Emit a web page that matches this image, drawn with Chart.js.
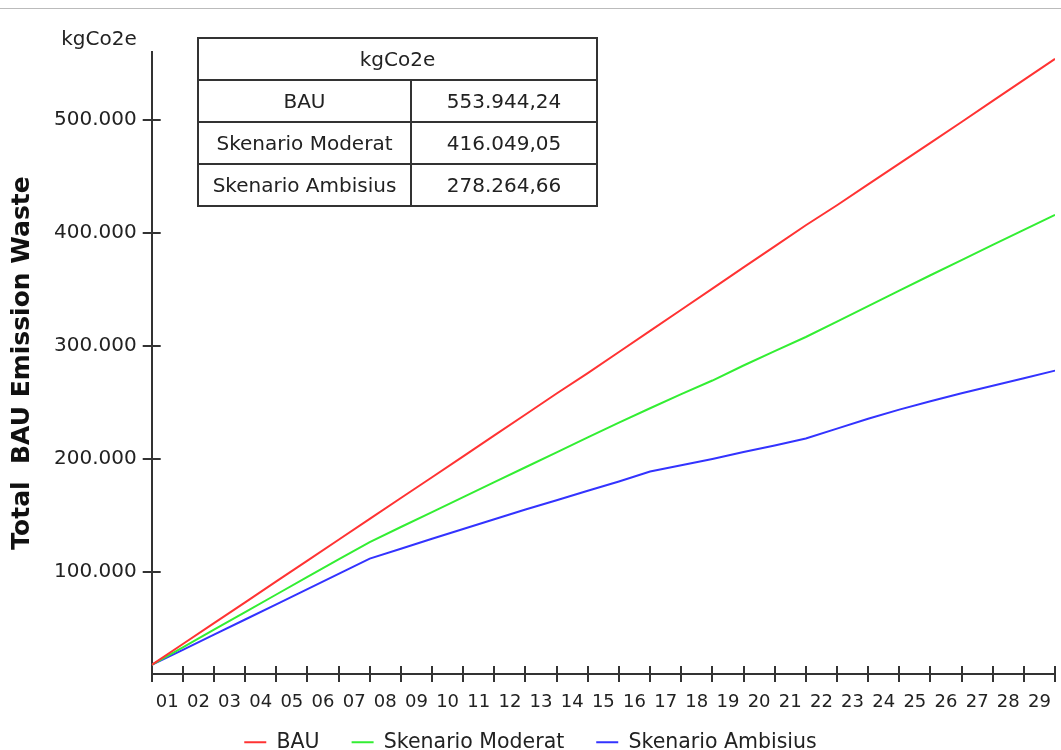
<!DOCTYPE html>
<html>
<head>
<meta charset="utf-8">
<script src="https://cdn.jsdelivr.net/npm/chart.js@4.4.1/dist/chart.umd.min.js"></script>
<style>
  body { margin: 0; background: #fff; }
  #wrap { position: relative; width: 1061px; height: 750px; }
  #topline { position: absolute; left: 0; top: 8px; width: 1061px; height: 0; border-top: 1px solid #bbb; }
  #summary {
    position: absolute; left: 197px; top: 37px; width: 401px; height: 168px;
    border-collapse: collapse; font-family: "DejaVu Sans", sans-serif; font-size: 20px; color: #222;
  }
  #summary td { border: 2px solid #333; text-align: center; padding: 0; height: 40px; }
</style>
</head>
<body>
<div id="wrap">
  <div id="topline"></div>
  <canvas id="chart_emission"></canvas>
  <table id="summary"></table>
</div>
<script>
// x labels sit between tick marks, the series has one value per tick mark (30)
const xLabels = ['01','02','03','04','05','06','07','08','09','10','11','12','13','14','15',
                 '16','17','18','19','20','21','22','23','24','25','26','27','28','29'];
const yTicks = [100000, 200000, 300000, 400000, 500000];

const bau = [18000, 36500, 55000, 73400, 91900, 110300, 128700, 147100, 165600, 184000,
             202500, 221000, 239500, 258000, 276000, 294700, 313400, 332100, 350800, 369500,
             388100, 406800, 424500, 442900, 461300, 479700, 498100, 516800, 535400, 553944];
const moderat = [18000, 33600, 49200, 64800, 80300, 95800, 111300, 126600, 140000, 153200,
                 166400, 179600, 192800, 206000, 219200, 232300, 245000, 257500, 269500, 282800,
                 295500, 308000, 321500, 335200, 349000, 362600, 376000, 389400, 402700, 416049];
const ambisius = [18000, 31400, 44800, 58200, 71600, 85000, 98500, 112000, 120800, 129600,
                  138200, 146800, 155400, 163700, 172000, 180200, 189000, 194500, 200200, 206300,
                  212000, 218200, 227000, 235700, 243800, 251200, 258200, 264900, 271500, 278265];

const tableUnit = 'kgCo2e';
const tableNames = ['BAU', 'Skenario Moderat', 'Skenario Ambisius'];
const tableValues = ['553.944,24', '416.049,05', '278.264,66'];

// summary table
const tbl = document.getElementById('summary');
let html = '<tr><td colspan="2">' + tableUnit + '</td></tr>';
tableNames.forEach(function(n, i) {
  html += '<tr><td style="width:211px">' + n + '</td><td>' + tableValues[i] + '</td></tr>';
});
tbl.innerHTML = html;

function dots(v) {
  return String(v).replace(/\B(?=(\d{3})+(?!\d))/g, '.');
}
function pts(arr) {
  return arr.map(function(v, i) { return {x: i, y: v}; });
}

Chart.defaults.font.family = '"DejaVu Sans", sans-serif';
Chart.defaults.color = '#222';

const AXIS = '#333';
const LEGEND_LIFT = 14;

var chart_emission = new Chart(document.getElementById('chart_emission'), {
    type: 'line',
    data: {
        datasets: [
            { label: 'BAU', data: pts(bau), borderColor: '#ff3333', backgroundColor: '#ff3333' },
            { label: 'Skenario Moderat', data: pts(moderat), borderColor: '#33ee33', backgroundColor: '#33ee33' },
            { label: 'Skenario Ambisius', data: pts(ambisius), borderColor: '#3333ff', backgroundColor: '#3333ff' }
        ]
    },
    options: {
        animation: false,
        responsive: true,
        maintainAspectRatio: false,
        layout: { padding: { top: 52, left: 0, right: 0, bottom: 0 } },
        datasets: {
            line: { xAxisID: 'xd', yAxisID: 'y', pointRadius: 0, borderWidth: 2, tension: 0 }
        },
        plugins: {
            tooltip: { enabled: false },
            legend: {
                position: 'bottom',
                maxHeight: 36,
                labels: {
                    usePointStyle: true,
                    pointStyle: 'line',
                    pointStyleWidth: 22,
                    padding: 32,
                    font: { size: 20.5 },
                    color: '#222'
                }
            }
        },
        scales: {
            xd: {
                type: 'linear',
                display: false,
                min: 0,
                max: 29
            },
            x: {
                type: 'category',
                labels: xLabels,
                offset: true,
                grid: { offset: true, drawOnChartArea: false, tickLength: 8, color: AXIS, lineWidth: 2 },
                border: { color: AXIS, width: 2 },
                ticks: { font: { size: 18 }, padding: 10, autoSkip: false, maxRotation: 0 },
                afterFit: function(scale) { scale.height = 40; }
            },
            y: {
                type: 'linear',
                min: 10000,
                max: 560000,
                afterBuildTicks: function(scale) {
                    scale.ticks = yTicks.map(function(v) { return {value: v}; });
                },
                grid: { drawOnChartArea: false, tickLength: 9, color: AXIS, lineWidth: 2 },
                border: { color: AXIS, width: 2 },
                ticks: {
                    font: { size: 20 },
                    padding: 6,
                    callback: function(value) { return dots(value); }
                },
                title: {
                    display: true,
                    text: 'Total  BAU Emission Waste',
                    font: { size: 25, weight: 'bold' },
                    color: '#111',
                    padding: { top: 7, bottom: 11 }
                }
            }
        }
    },
    plugins: [{
        id: 'crossTicks',
        afterLayout: function(chart) {
            // legend row sits closer to the axis labels than its padding allows;
            // only the top moves so the clip box still reaches the canvas bottom
            if (chart.legend) {
                chart.legend.top -= LEGEND_LIFT;
            }
        },
        afterDraw: function(chart) {
            const ctx = chart.ctx;
            const area = chart.chartArea;
            const xd = chart.scales.xd;
            const y = chart.scales.y;
            ctx.save();
            ctx.strokeStyle = AXIS;
            ctx.lineWidth = 2;
            ctx.beginPath();
            bau.forEach(function(_, i) {
                const px = Math.round(xd.getPixelForValue(i));
                ctx.moveTo(px, area.bottom);
                ctx.lineTo(px, area.bottom - 8);
            });
            y.ticks.forEach(function(t) {
                const py = Math.round(y.getPixelForValue(t.value));
                ctx.moveTo(area.left, py);
                ctx.lineTo(area.left + 9, py);
            });
            ctx.stroke();
            // unit label above the y axis
            ctx.fillStyle = '#222';
            ctx.font = '20px "DejaVu Sans", sans-serif';
            ctx.textAlign = 'right';
            ctx.textBaseline = 'alphabetic';
            ctx.fillText(tableUnit, area.left - 15, 45);
            ctx.restore();
        }
    }]
});
</script>
</body>
</html>
